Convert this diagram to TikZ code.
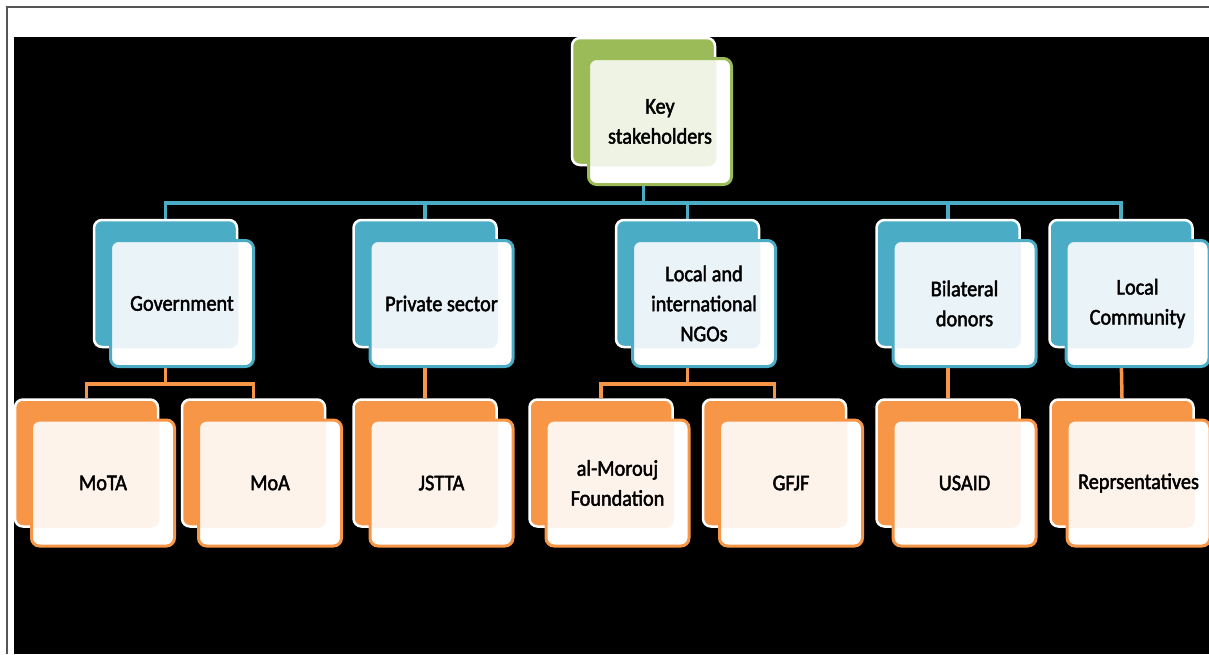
\documentclass[tikz,border=0pt]{standalone}
\usepackage{fontspec}
\setmainfont{Carlito}[FakeBold=2, FakeStretch=0.9]
\usetikzlibrary{calc}
\definecolor{gB}{HTML}{9BBB59}
\definecolor{gT}{HTML}{EEF3E3}
\definecolor{bB}{HTML}{4BACC6}
\definecolor{bT}{HTML}{EAF4F8}
\definecolor{oB}{HTML}{F79646}
\definecolor{oT}{HTML}{FEF3EA}
\definecolor{frameC}{HTML}{555555}
\pgfdeclarelayer{bg}
\pgfdeclarelayer{conn}
\pgfsetlayers{bg,conn,main}
\tikzset{
  backbox/.style={rectangle, rounded corners=8pt, minimum width=143pt, minimum height=127pt,
    draw=white, line width=2.5pt, inner sep=0pt},
  frontbox/.style={rectangle, rounded corners=8pt, minimum width=143pt, minimum height=126pt,
    line width=3pt, inner sep=2pt, align=center, fill=white, text=black,
    font=\fontsize{22.5}{30}\selectfont},
  bline/.style={draw=bB, line width=3.5pt},
  oline/.style={draw=oB, line width=3.5pt},
}
% #1 name, #2 x, #3 y (back centre), #4 border colour, #5 tint, #6 text
\newcommand{\pairbox}[6]{%
  \node[backbox, fill=#4] (#1b) at (#2,#3) {};
  \node[frontbox, draw=#4, path picture={\fill[#5, rounded corners=8pt] (#1b.south west) rectangle (#1b.north east);}]
    (#1) at ({#2+16.5},{#3+20}) {#6};
}
\begin{document}
\begin{tikzpicture}[x=1pt,y=-1pt]
\useasboundingbox (0,0) rectangle (1209,654);
\begin{pgfonlayer}{bg}
  \fill[white] (0,0) rectangle (1209,654);
  \fill[black] (14,37) rectangle (1209,654);
  \draw[frameC, line width=2pt] (7,654) -- (7,7) -- (1209,7);
\end{pgfonlayer}

% top
\pairbox{key}{643.5}{101.5}{gB}{gT}{Key\\stakeholders}
% row 2
\pairbox{gov}{165.5}{283.5}{bB}{bT}{Government}
\pairbox{priv}{425}{283.5}{bB}{bT}{Private sector}
\pairbox{ngo}{687.5}{283.5}{bB}{bT}{Local and\\international\\NGOs}
\pairbox{bil}{948}{283.5}{bB}{bT}{Bilateral\\donors}
\pairbox{loc}{1121}{283.5}{bB}{bT}{Local\\Community}
% row 3
\pairbox{mota}{86.5}{463}{oB}{oT}{MoTA}
\pairbox{moa}{253.5}{463}{oB}{oT}{MoA}
\pairbox{jstta}{425}{463}{oB}{oT}{JSTTA}
\pairbox{mor}{601}{463}{oB}{oT}{al-Morouj\\Foundation}
\pairbox{gfjf}{774.5}{463}{oB}{oT}{GFJF}
\pairbox{usaid}{948}{463}{oB}{oT}{USAID}
\pairbox{rep}{1122}{463}{oB}{oT}{Reprsentatives}

\coordinate (busA) at (0,203);
\coordinate (busB) at (0,384);
\begin{pgfonlayer}{conn}
  \foreach \c in {govb,privb,ngob,bilb,locb}
    \draw[bline] (keyb.south) -- (keyb.south |- busA) -| (\c.north);
  \foreach \c in {motab,moab}
    \draw[oline] (govb.south) -- (govb.south |- busB) -| (\c.north);
  \draw[oline] (privb.south) -- (jsttab.north);
  \foreach \c in {morb,gfjfb}
    \draw[oline] (ngob.south) -- (ngob.south |- busB) -| (\c.north);
  \draw[oline] (bilb.south) -- (usaidb.north);
  \draw[oline] (locb.south) -- (repb.north);
\end{pgfonlayer}
\end{tikzpicture}
\end{document}
